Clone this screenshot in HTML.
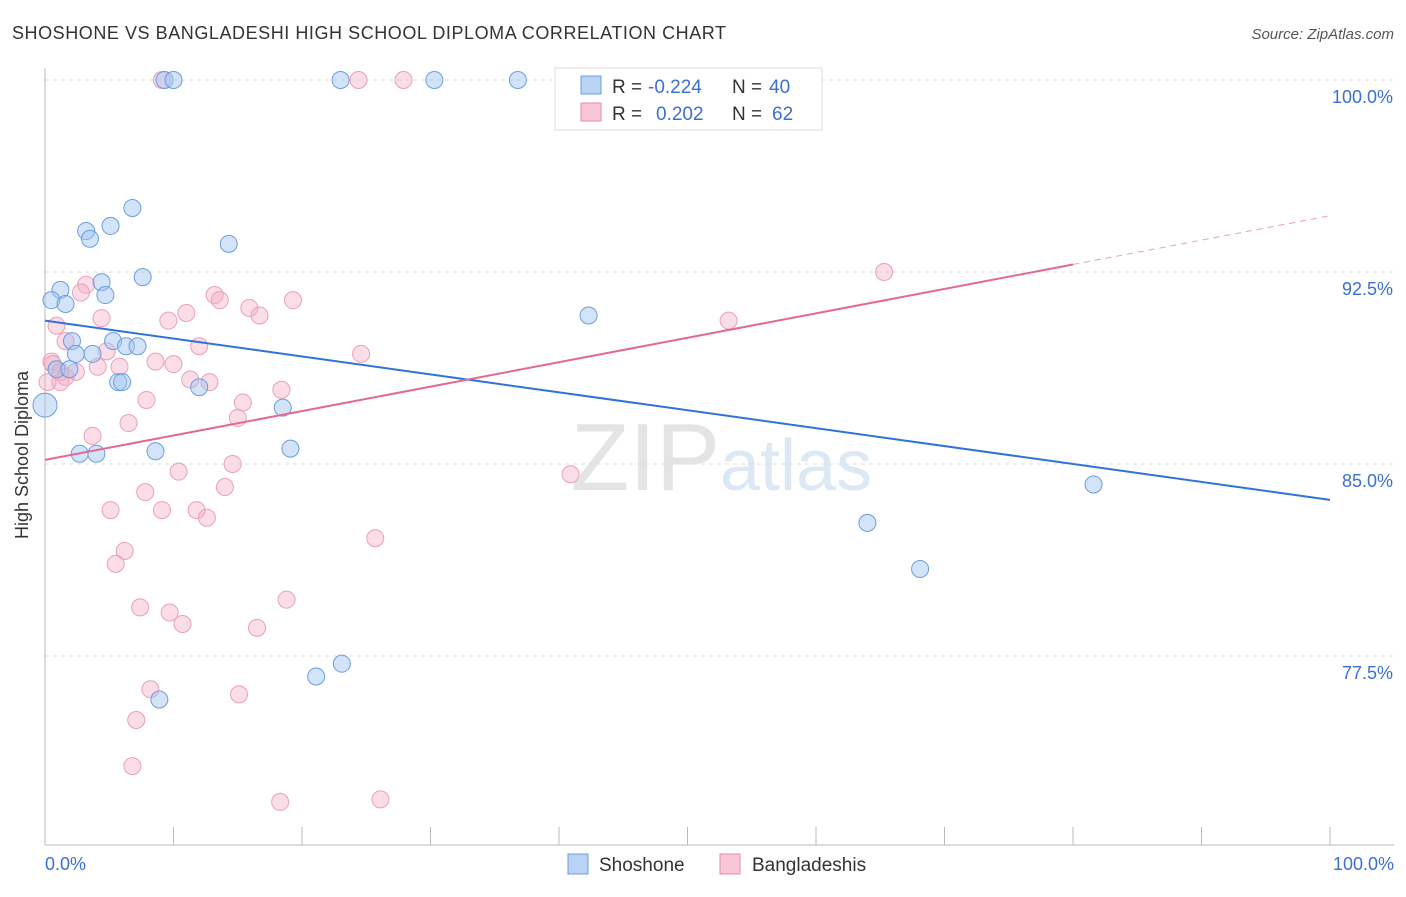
<!DOCTYPE html>
<html><head><meta charset="utf-8"><style>
body{margin:0;background:#fff;font-family:"Liberation Sans",sans-serif}
svg text{font-family:"Liberation Sans",sans-serif}
</style></head><body>
<svg id="chart" width="1406" height="892" xmlns="http://www.w3.org/2000/svg">
<text x="12" y="39" font-size="18" fill="#333" textLength="714" lengthAdjust="spacing">SHOSHONE VS BANGLADESHI HIGH SCHOOL DIPLOMA CORRELATION CHART</text>
<text x="1394" y="39" font-size="15" fill="#555" font-style="italic" text-anchor="end">Source: ZipAtlas.com</text>
<text x="720" y="490" font-size="96" fill="#e4e4e4" text-anchor="end" font-family="Liberation Serif">ZIP</text>
<text x="720" y="490" font-size="72" fill="#dde8f5">atlas</text>
<g id="grid"></g><g id="axes"></g><g id="pts"></g><g id="trend"></g>
<text x="28" y="455" font-size="18" fill="#333" text-anchor="middle" transform="rotate(-90 28 455)">High School Diploma</text>
<text x="45" y="870" font-size="18" fill="#3b6fd4">0.0%</text>
<text x="1394" y="870" font-size="18" fill="#3b6fd4" text-anchor="end">100.0%</text>
<g>
<rect x="555" y="68" width="267" height="62" fill="#fff" stroke="#ddd"/>
<rect x="581" y="76" width="20" height="18" fill="#b9d3f5" stroke="#6a9ee0"/>
<rect x="581" y="103" width="20" height="18" fill="#f9c6d6" stroke="#e88aa8"/>
<text x="612" y="93" font-size="19" fill="#333">R = <tspan fill="#3b6fd4" x="648">-0.224</tspan><tspan x="732">N = </tspan><tspan fill="#3b6fd4" x="769">40</tspan></text>
<text x="612" y="120" font-size="19" fill="#333">R = <tspan fill="#3b6fd4" x="656">0.202</tspan><tspan x="732">N = </tspan><tspan fill="#3b6fd4" x="772">62</tspan></text>
</g>
<g>
<rect x="568" y="854" width="20" height="20" fill="#b9d3f5" stroke="#6a9ee0"/>
<text x="599" y="871" font-size="19" fill="#333">Shoshone</text>
<rect x="720" y="854" width="20" height="20" fill="#f9c6d6" stroke="#e88aa8"/>
<text x="752" y="871" font-size="19" fill="#333">Bangladeshis</text>
</g>
</svg>
<script>
const yTicks=[100,92.5,85,77.5];
const yTickLabels=["100.0%","92.5%","85.0%","77.5%"];
const xTicks=[0,10,20,30,40,50,60,70,80,90,100];
const shoX=[9.3,10,23,30.3,36.8,6.8,5.1,3.2,3.5,14.3,7.6,1.2,4.4,0.5,1.6,4.7,42.3,2.1,5.3,6.3,7.2,2.4,3.7,0.9,1.9,5.7,6.0,12.0,18.5,0,8.6,2.7,4.0,19.1,81.6,64.0,68.1,23.1,21.1,8.9];
const shoY=[100,100,100,100,100,95.0,94.3,94.1,93.8,93.6,92.3,91.8,92.1,91.4,91.25,91.6,90.8,89.8,89.8,89.6,89.6,89.3,89.3,88.7,88.7,88.2,88.2,88.0,87.2,87.3,85.5,85.4,85.4,85.6,84.2,82.7,80.9,77.2,76.7,75.8];
const banX=[9.1,24.4,27.9,3.2,2.8,13.2,13.6,15.9,19.3,11.0,9.6,16.7,4.4,0.9,1.6,12.0,24.6,4.8,0.5,8.6,10.0,4.1,5.8,1.2,2.4,1.6,1.2,11.3,12.8,18.4,7.9,15.4,15.0,6.5,3.7,10.4,14.6,40.9,7.8,14.0,5.1,9.1,11.8,12.6,25.7,6.2,5.5,18.8,7.4,9.7,10.7,16.5,8.2,15.1,7.1,6.8,18.3,26.1,65.3,53.2,0.2,0.6];
const banY=[100,100,100,92.0,91.7,91.6,91.4,91.1,91.4,90.9,90.6,90.8,90.7,90.4,89.8,89.6,89.3,89.4,89.0,89.0,88.9,88.8,88.8,88.6,88.6,88.4,88.2,88.3,88.2,87.9,87.5,87.4,86.8,86.6,86.1,84.7,85.0,84.6,83.9,84.1,83.2,83.2,83.2,82.9,82.1,81.6,81.1,79.7,79.4,79.2,78.75,78.6,76.2,76.0,75.0,73.2,71.8,71.9,92.5,90.6,88.2,88.9];
const shoTrend=[90.6,83.6];
const banTrend=[85.16,94.7];
const X=v=>45+v*12.85, Y=v=>80+(100-v)*25.6;
const NS="http://www.w3.org/2000/svg";
function mk(p,t,a){const e=document.createElementNS(NS,t);for(const k in a)e.setAttribute(k,a[k]);p.appendChild(e);return e;}
const grid=document.getElementById('grid'),axes=document.getElementById('axes'),pts=document.getElementById('pts'),tr=document.getElementById('trend');
yTicks.forEach((v,i)=>{
 const l=mk(grid,'line',{x1:45,x2:1394,y1:Y(v),y2:Y(v),stroke:'#ddd','stroke-dasharray':'4,4'});
 
 
 const t=mk(grid,'text',{x:1393,y:Y(v)+23,'font-size':18,fill:'#3b6fd4','text-anchor':'end'});t.textContent=yTickLabels[i];
 
 
});
const ya=mk(axes,'line',{x1:45,x2:45,y1:68,y2:845,stroke:'#bbb'});


const xa=mk(axes,'line',{x1:45,x2:1394,y1:845,y2:845,stroke:'#bbb'});


xTicks.forEach(v=>{const t=mk(axes,'line',{x1:X(v),x2:X(v),y1:827,y2:845,stroke:'#bbb'});
 
 });
banX.forEach((x,i)=>{const c=mk(pts,'circle',{cx:X(x),cy:Y(banY[i]),r:8.5,fill:'rgba(245,170,195,0.4)',stroke:'#eaa0b8','stroke-width':1});
 
 });
shoX.forEach((x,i)=>{const c=mk(pts,'circle',{cx:X(x),cy:Y(shoY[i]),r:(x===0?12:8.5),fill:'rgba(160,195,240,0.45)',stroke:'#6a9ee0','stroke-width':1});
 
 });
const sl=mk(tr,'line',{x1:X(0),y1:Y(shoTrend[0]),x2:X(100),y2:Y(shoTrend[1]),stroke:'#2f72d8','stroke-width':2});


const bAt=v=>banTrend[0]+(banTrend[1]-banTrend[0])*v/100;
const bl=mk(tr,'line',{x1:X(0),y1:Y(bAt(0)),x2:X(80),y2:Y(bAt(80)),stroke:'#e46892','stroke-width':2});


const bd=mk(tr,'line',{x1:X(80),y1:Y(bAt(80)),x2:X(100),y2:Y(bAt(100)),stroke:'#e8a0b8','stroke-width':1,'stroke-dasharray':'6,5'});


</script>
</body></html>
